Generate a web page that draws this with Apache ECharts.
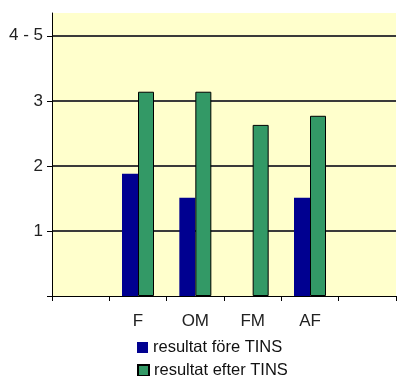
<!DOCTYPE html>
<html>
<head>
<meta charset="utf-8">
<script src="https://cdn.jsdelivr.net/npm/echarts@6/dist/echarts.min.js"></script>
<style>html,body{margin:0;padding:0;background:#fff;}#c{width:398px;height:376px;}</style>
</head>
<body>
<div id="c"></div>
<script>
var categories = ['', 'F', 'OM', 'FM', 'AF', ''];
var before = [null, 1.88, 1.51, null, 1.51, null];
var after = [null, 3.14, 3.14, 2.63, 2.77, null];
var yTicks = [0, 1, 2, 3, 4];
var yTickLabels = {0: '', 1: '1', 2: '2', 3: '3', 4: '4 - 5'};
var seriesNames = ['resultat före TINS', 'resultat efter TINS'];

var chart = echarts.init(document.getElementById('c'));
var font = 'Liberation Sans, Arial, sans-serif';
function legendFor(name, top) {
  return {
    orient: 'vertical', left: 132, top: top, itemWidth: 11, itemHeight: 11,
    icon: 'rect',
    textStyle: {fontFamily: font, fontSize: 16.5, color: '#111'},
    data: [name]
  };
}
chart.setOption({
  animation: false,
  grid: {left: 52, right: 2, top: 13, bottom: 80, show: true, backgroundColor: '#FFFFCC', borderWidth: 0},
  legend: [legendFor(seriesNames[0], 334), legendFor(seriesNames[1], 357)],
  xAxis: {
    type: 'category', data: categories, boundaryGap: true,
    axisLine: {lineStyle: {color: '#000', width: 1}},
    axisTick: {show: true, length: 5, lineStyle: {color: '#000'}, interval: 0},
    axisLabel: {fontFamily: font, fontSize: 17, color: '#222', margin: 17, interval: 0},
    splitLine: {show: false}
  },
  yAxis: {
    type: 'value', min: 0, max: 4.35, interval: 1,
    axisLine: {show: true, lineStyle: {color: '#000', width: 1}},
    axisTick: {show: true, length: 5, lineStyle: {color: '#000'}, customValues: yTicks},
    axisLabel: {fontFamily: font, fontSize: 17, color: '#222', margin: 9,
      customValues: yTicks,
      formatter: function (v) { return yTickLabels[v] !== undefined ? yTickLabels[v] : ''; }},
    splitLine: {show: true, showMinLine: false, lineStyle: {color: '#3a3a3a', width: 2}}
  },
  series: [
    {name: seriesNames[0], type: 'bar', data: before, barWidth: 16, barGap: '0%',
      itemStyle: {color: '#000090'}},
    {name: seriesNames[1], type: 'bar', data: after, barWidth: 16, barGap: '0%',
      itemStyle: {color: '#339966', borderColor: '#000', borderWidth: 1}}
  ]
});
</script>
</body>
</html>
